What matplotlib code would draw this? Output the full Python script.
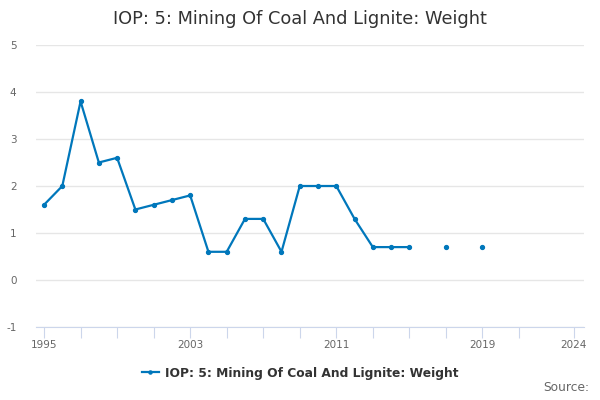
import numpy as np
import matplotlib.pyplot as plt

# Data
years = [1995, 1996, 1997, 1998, 1999, 2000, 2001, 2002, 2003, 2004,
         2005, 2006, 2007, 2008, 2009, 2010, 2011, 2012, 2013, 2014,
         2015, 2016, 2017, 2018, 2019]
weight = [1.6, 2.0, 3.8, 2.5, 2.6, 1.5, 1.6, 1.7, 1.8, 0.6,
          0.6, 1.3, 1.3, 0.6, 2.0, 2.0, 2.0, 1.3, 0.7, 0.7,
          0.7, np.nan, 0.7, np.nan, 0.7]
series_name = 'IOP: 5: Mining Of Coal And Lignite: Weight'
tick_years = [1995, 1997, 1999, 2001, 2003, 2005, 2007, 2009, 2011,
              2013, 2015, 2017, 2019, 2021, 2024]
label_years = [1995, 2003, 2011, 2019, 2024]
y_ticks = [-1, 0, 1, 2, 3, 4, 5]

color = '#0077bb'

fig = plt.figure(figsize=(6, 4), dpi=100)
ax = fig.add_axes([0.06, 0.1825, 0.913, 0.705])

ax.plot(years, weight, color=color, lw=1.6, marker='o', markersize=2.8,
        label=series_name)

ax.set_xlim(1994.56, 2024.55)
ax.set_ylim(-1, 5)
ax.set_yticks(y_ticks)
ax.set_yticklabels([str(v) for v in y_ticks])
ax.set_xticks(tick_years)
ax.set_xticklabels([str(y) if y in label_years else '' for y in tick_years])

ax.grid(axis='y', color='#e6e6e6', lw=1)
ax.set_axisbelow(True)
for s in ['top', 'right', 'left']:
    ax.spines[s].set_visible(False)
ax.spines['bottom'].set_color('#ccd6eb')
ax.tick_params(axis='x', colors='#ccd6eb', length=8, labelcolor='#666666',
               labelsize=7.5, pad=1)
ax.tick_params(axis='y', length=0, labelcolor='#666666', labelsize=7.5, pad=14)

fig.suptitle(series_name, y=0.975, fontsize=12.8, color='#333333')
fig.legend(loc='center', bbox_to_anchor=(0.5, 0.067), frameon=False,
           prop={'weight': 'bold', 'size': 8.8}, labelcolor='#333333',
           handlelength=1.4, handletextpad=0.5, markerscale=0.8)
fig.text(0.982, 0.022, 'Source:', ha='right', fontsize=8.8, color='#666666')

plt.savefig('out.png', dpi=100)
